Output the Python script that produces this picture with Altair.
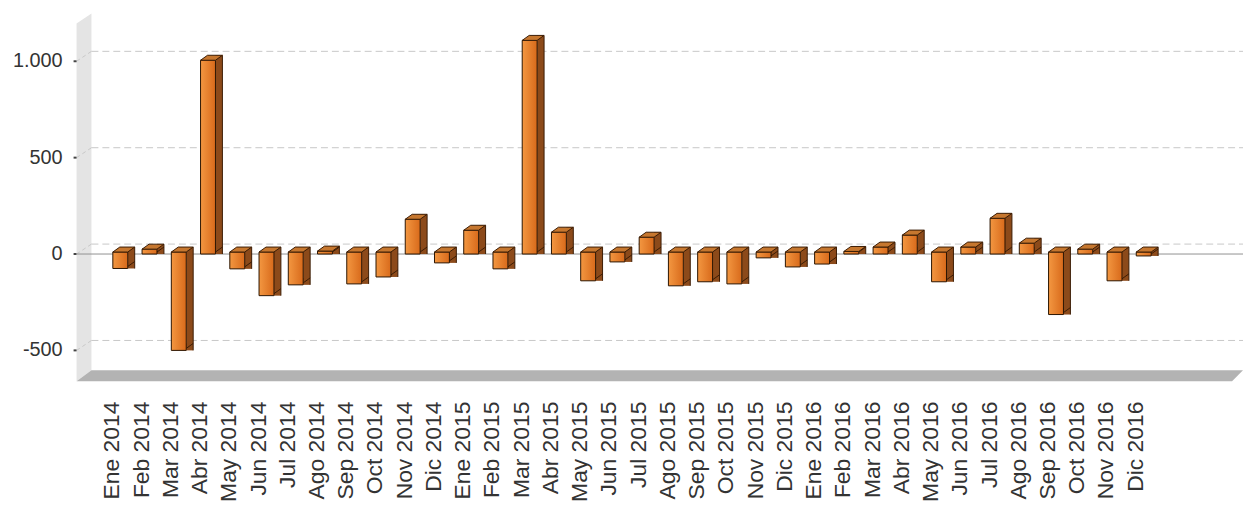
import altair as alt
import pandas as pd

months = [
    "Ene 2014", "Feb 2014", "Mar 2014", "Abr 2014", "May 2014", "Jun 2014",
    "Jul 2014", "Ago 2014", "Sep 2014", "Oct 2014", "Nov 2014", "Dic 2014",
    "Ene 2015", "Feb 2015", "Mar 2015", "Abr 2015", "May 2015", "Jun 2015",
    "Jul 2015", "Ago 2015", "Sep 2015", "Oct 2015", "Nov 2015", "Dic 2015",
    "Ene 2016", "Feb 2016", "Mar 2016", "Abr 2016", "May 2016", "Jun 2016",
    "Jul 2016", "Ago 2016", "Sep 2016", "Oct 2016", "Nov 2016", "Dic 2016",
]
values = [
    -75, 15, -500, 995, -77, -216, -160, 5, -155, -119, 170, -46,
    113, -77, 1098, 103, -139, -41, 77, -165, -144, -155, -20, -67,
    -52, 3, 26, 88, -144, 26, 175, 46, -314, 15, -139, -10,
]
y_ticks = [-500, 0, 500, 1000]
y_labels = [f"{v:,}".replace(",", ".") for v in y_ticks]

df = pd.DataFrame({"month": months, "value": values})
df["top"] = df["value"].clip(lower=0)
df["bot"] = df["value"].clip(upper=0)

W, H = 1174, 370
FONT = "Liberation Sans"
SIDE = "#8c4a1a"
TOPC = "#c6772f"
EDGE = "#3a1c05"
GRID = "#c8c8c8"

yscale = alt.Scale(domain=[-659.8, 1247.4], nice=False, zero=False)
xscale = alt.Scale(domain=months, range=[29.3, 1088.8], paddingInner=0.49, paddingOuter=0.245)

xaxis = alt.Axis(
    title=None, labelAngle=-90, labelAlign="right", labelBaseline="middle",
    domain=False, ticks=False, tickSize=0, grid=False, labelPadding=20,
    labelOffset=-8, labelFont=FONT, labelFontSize=23, labelColor="#333333",
    labelOverlap=False,
)

X = alt.X("month:N", sort=months, scale=xscale, axis=xaxis)
Ytop = alt.Y("top:Q", scale=yscale, axis=None)
Y2 = alt.Y2("bot")

base = alt.Chart(df)
one = alt.Chart(pd.DataFrame({"k": [0]}))
gdf = alt.Chart(pd.DataFrame({"g": y_ticks, "lab": y_labels}))
zdf = alt.Chart(pd.DataFrame({"z": [0]}))
GY = alt.Y("g:Q", scale=yscale, axis=None)

wall = one.mark_point(
    shape="M0,10L15,0L15,359L0,370Z", size=4, filled=True, fill="#e4e4e4",
    strokeWidth=0, opacity=1,
).encode(x=alt.value(0), y=alt.value(0))
floor = one.mark_point(
    shape="M0,370L15,359L1174,359L1163,370Z", size=4, filled=True, fill="#b3b3b3",
    strokeWidth=0, opacity=1,
).encode(x=alt.value(0), y=alt.value(0))

grid = gdf.mark_rule(yOffset=-10, color=GRID, strokeDash=[7, 4], strokeWidth=1).encode(
    y=GY, x=alt.value(15), x2=alt.value(W)
)
walldiag = gdf.mark_point(
    shape="M0,0L15,-10", size=4, filled=False, stroke=GRID, strokeDash=[4, 3],
    strokeWidth=1, opacity=1,
).encode(x=alt.value(0), y=GY)
yticks = gdf.mark_tick(orient="horizontal", size=3, thickness=2, color="#444444", opacity=1).encode(
    x=alt.value(-1.5), y=GY
)
ylabels = gdf.mark_text(
    align="right", baseline="middle", font=FONT, fontSize=20, color="#333333"
).encode(x=alt.value(-14), y=GY, text="lab:N")

zero = zdf.mark_rule(color="#909090", strokeWidth=1).encode(
    y=alt.Y("z:Q", scale=yscale, axis=None), x=alt.value(0), x2=alt.value(W)
)

side = base.mark_bar(width=7, xOffset=11, yOffset=-7, color=SIDE).encode(x=X, y=Ytop, y2=Y2)
tri = base.mark_point(
    shape="M0,0L0,-5L7,-5Z", size=4, filled=True, fill=SIDE, strokeWidth=0,
    opacity=1, xOffset=7.5, yOffset=-2,
).encode(x=X, y=alt.Y("bot:Q", scale=yscale, axis=None))
botedge = base.mark_point(
    shape="M0,0L7,-5", size=4, filled=False, stroke=EDGE, strokeWidth=1,
    opacity=1, xOffset=7.5, yOffset=-2,
).encode(x=X, y=alt.Y("bot:Q", scale=yscale, axis=None))
rightedge = base.mark_rule(xOffset=14.5, yOffset=-7, color=EDGE, strokeWidth=1).encode(
    x=X, y=Ytop, y2=Y2
)

grad = alt.Gradient(
    gradient="linear",
    stops=[alt.GradientStop(color="#f39741", offset=0), alt.GradientStop(color="#d86a1b", offset=1)],
    x1=0, x2=1, y1=0, y2=0,
)
front = base.mark_bar(width=15, yOffset=-2, color=grad, stroke="#2a1400", strokeWidth=1).encode(
    x=X, y=Ytop, y2=Y2
)
topf = base.mark_point(
    shape="M-7.5,0L7.5,0L14.5,-5L-0.5,-5Z", size=4, filled=True, fill=TOPC,
    stroke=EDGE, strokeWidth=1, opacity=1, yOffset=-2,
).encode(x=X, y=alt.Y("top:Q", scale=yscale, axis=None))

chart = alt.layer(
    wall, floor, grid, walldiag, yticks, ylabels, zero,
    side, tri, botedge, rightedge, front, topf
).properties(
    width=W, height=H, autosize="none",
    padding={"left": 69, "top": 4, "right": 0, "bottom": 124},
    background="white",
).configure_view(stroke=None)

chart.save("out.html", embed_options={"renderer": "svg", "actions": False})
